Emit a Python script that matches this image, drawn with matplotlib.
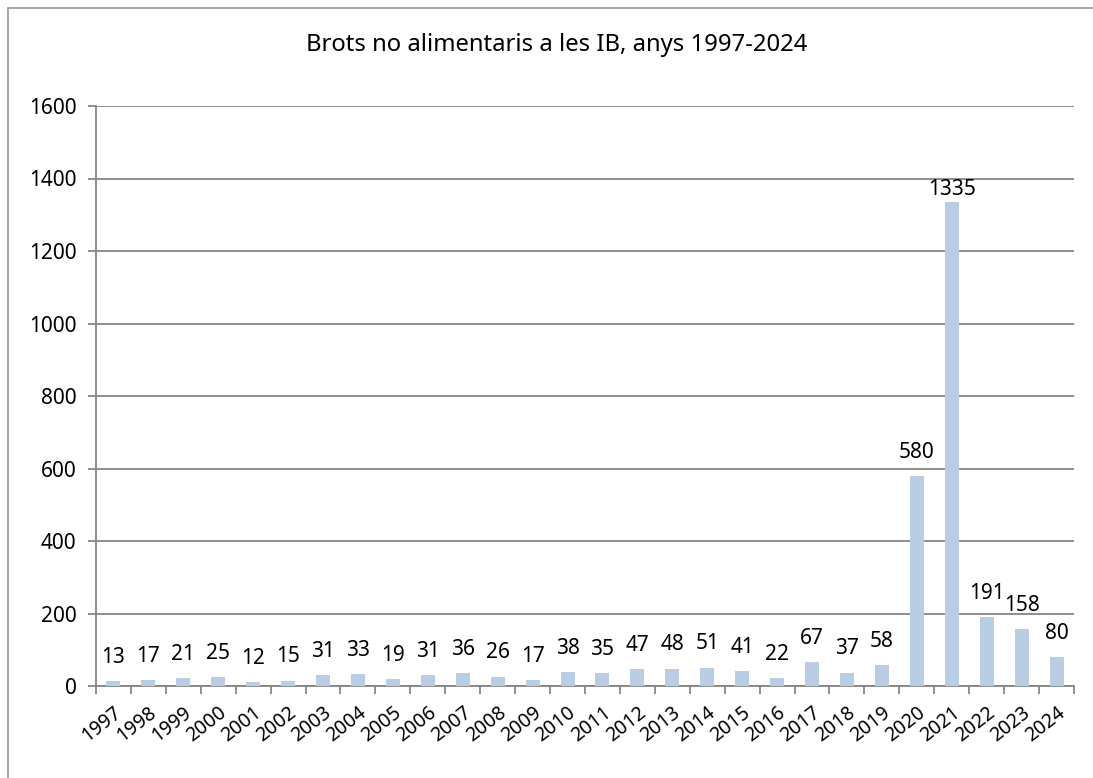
import matplotlib.pyplot as plt
import numpy as np
from matplotlib.patches import Rectangle

plt.rcParams['font.family'] = ['Noto Sans', 'DejaVu Sans']

years = [str(y) for y in range(1997, 2025)]
outbreaks = [13, 17, 21, 25, 12, 15, 31, 33, 19, 31, 36, 26, 17, 38, 35,
             47, 48, 51, 41, 22, 67, 37, 58, 580, 1335, 191, 158, 80]
y_ticks = [0, 200, 400, 600, 800, 1000, 1200, 1400, 1600]

W, H = 1093, 778
fig = plt.figure(figsize=(W / 100, H / 100), dpi=100)
ax = fig.add_axes([96 / W, 1 - 686 / H, (1074 - 96) / W, (686 - 106) / H])

grid_col = '#868686'
x = np.arange(len(years))
ax.bar(x, outbreaks, width=0.4, color='#B9CDE5', zorder=3)

# data labels, the tallest one sits a bit closer to its bar
for xi, v in zip(x, outbreaks):
    off = 9 if v == max(outbreaks) else 17
    ax.annotate(str(v), (xi, v), xytext=(0, off), textcoords='offset points',
                ha='center', va='center', fontsize=15, color='black')

ax.set_xlim(-0.5, len(years) - 0.5)
ax.set_ylim(0, 1600)
ax.set_yticks(y_ticks)
ax.set_yticklabels([str(t) for t in y_ticks], fontsize=15)
ax.yaxis.grid(True, color=grid_col, linewidth=1.3, zorder=0)
ax.set_axisbelow(True)

ax.set_xticks(x)
ax.set_xticklabels(years, rotation=38, ha='right', rotation_mode='anchor', fontsize=14)
ax.set_xticks(np.arange(len(years) + 1) - 0.5, minor=True)
ax.tick_params(axis='x', which='major', length=0, pad=12)
ax.tick_params(axis='x', which='minor', length=6, width=1.3, color=grid_col)
ax.tick_params(axis='y', length=6, width=1.3, color=grid_col, pad=8)

for s in ['top', 'right']:
    ax.spines[s].set_visible(False)
for s in ['left', 'bottom']:
    ax.spines[s].set_color(grid_col)
    ax.spines[s].set_linewidth(1.3)

fig.text(557 / W, 1 - 45 / H, 'Brots no alimentaris a les IB, anys 1997-2024',
         ha='center', va='center', fontsize=17.2)

# outer chart frame (only left and top edges visible in the image)
fig.add_artist(Rectangle((8 / W, -0.5), 1.5, 1.5 - 8 / H, transform=fig.transFigure,
                         fill=False, edgecolor='#A0A0A0', linewidth=1.3))

fig.savefig('out.png', dpi=100)
